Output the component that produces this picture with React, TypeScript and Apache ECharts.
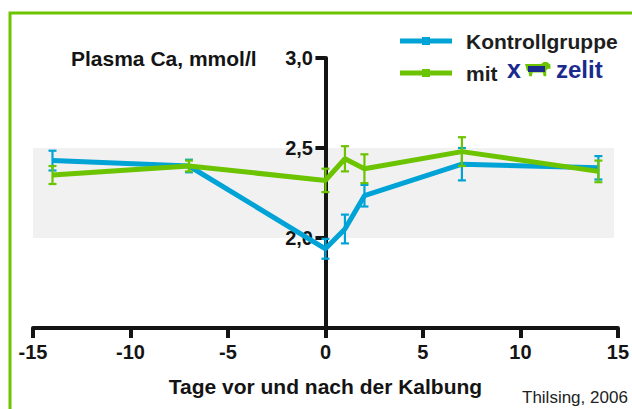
import React, { useEffect, useRef } from "react";
import * as echarts from "echarts";

const days = [-14, -7, 0, 1, 2, 7, 14];
const kontrollMean = [2.43, 2.4, 1.94, 2.05, 2.235, 2.41, 2.39];
const kontrollErr = [0.055, 0.035, 0.055, 0.08, 0.06, 0.09, 0.065];
const xzelitMean = [2.35, 2.4, 2.32, 2.44, 2.385, 2.48, 2.37];
const xzelitErr = [0.05, 0.03, 0.065, 0.07, 0.08, 0.08, 0.06];
const normalRange = [2.0, 2.5];
const xTicks = [-15, 15, 5];
const yRange = [1.5, 3.0, 0.5];
const yTickValues = [2.0, 2.5, 3.0];

const BLUE = "#00a3d6";
const GREEN = "#6cc400";
const NAVY = "#1b2a8e";
const INK = "#141414";
const FONT = "Liberation Sans, Arial, sans-serif";

const cowPath =
  "M0,2 L19,2 L22,0 L26,0 L30,3 L30,7 L27,7 L25,9 L25,15 L22,15 L21,11 L9,11 L8,15 L5,15 L4,10 L2,9 L1,5 Z";
echarts.graphic.registerShape("cow", echarts.graphic.extendPath(cowPath, {}) as any);

function errSeries(name: string, mean: number[], err: number[], color: string, z: number) {
  return {
    type: "custom",
    name,
    z,
    data: days.map((d, i) => [d, mean[i] - err[i], mean[i] + err[i]]),
    renderItem: (params: any, api: any) => {
      const lo = api.coord([api.value(0), api.value(1)]);
      const hi = api.coord([api.value(0), api.value(2)]);
      const w = 4;
      const style = { stroke: color, lineWidth: 2.2 };
      return {
        type: "group",
        children: [
          { type: "line", shape: { x1: lo[0], y1: lo[1], x2: hi[0], y2: hi[1] }, style },
          { type: "line", shape: { x1: lo[0] - w, y1: lo[1], x2: lo[0] + w, y2: lo[1] }, style },
          { type: "line", shape: { x1: hi[0] - w, y1: hi[1], x2: hi[0] + w, y2: hi[1] }, style },
        ],
      };
    },
  };
}

export default function App() {
  const ref = useRef<HTMLDivElement>(null);
  useEffect(() => {
    if (!ref.current) return;
    const chart = echarts.init(ref.current, null, { renderer: "svg" });
    const gridLeft = 33;
    const gridRight = 11;
    const plotW = 632 - gridLeft - gridRight;
    const zeroShift = plotW * ((0 - xTicks[0]) / (xTicks[1] - xTicks[0]));
    chart.setOption({
      animation: false,
      backgroundColor: "#ffffff",
      grid: { left: gridLeft, right: gridRight, top: 58, bottom: 81 },
      xAxis: {
        type: "value",
        min: xTicks[0],
        max: xTicks[1],
        interval: xTicks[2],
        axisLine: { show: true, onZero: false, lineStyle: { color: INK, width: 4 } },
        axisTick: { show: true, length: 10, lineStyle: { color: INK, width: 4 } },
        axisLabel: { margin: 14, fontFamily: FONT, fontWeight: "bold", fontSize: 20, color: INK },
        splitLine: { show: false },
        name: "Tage vor und nach der Kalbung",
        nameLocation: "middle",
        nameGap: 48,
        nameTextStyle: { fontFamily: FONT, fontWeight: "bold", fontSize: 21, color: INK },
      },
      yAxis: {
        type: "value",
        min: yRange[0],
        max: yRange[1],
        interval: yRange[2],
        axisLine: { show: true, onZero: true, lineStyle: { color: INK, width: 4 } },
        axisTick: { show: false },
        axisLabel: {
          margin: 14 - zeroShift,
          fontFamily: FONT,
          fontWeight: "bold",
          fontSize: 20,
          color: INK,
          formatter: (v: number) => (v === yRange[0] ? "" : v.toFixed(1).replace(".", ",")),
        },
        splitLine: { show: false },
      },
      series: [
        {
          type: "line",
          name: "Kontrollgruppe",
          data: days.map((d, i) => [d, kontrollMean[i]]),
          showSymbol: false,
          lineStyle: { color: BLUE, width: 5 },
          itemStyle: { color: BLUE },
          z: 3,
          markArea: {
            silent: true,
            z: 0,
            itemStyle: { color: "#f1f1f1" },
            data: [[{ xAxis: -15, yAxis: normalRange[0] }, { xAxis: 14.8, yAxis: normalRange[1] }]],
          },
        },
        errSeries("Kontrollgruppe SE", kontrollMean, kontrollErr, BLUE, 4),
        {
          type: "line",
          name: "mit xzelit",
          data: days.map((d, i) => [d, xzelitMean[i]]),
          showSymbol: false,
          lineStyle: { color: GREEN, width: 5 },
          itemStyle: { color: GREEN },
          z: 5,
        },
        errSeries("mit xzelit SE", xzelitMean, xzelitErr, GREEN, 6),
        {
          type: "custom",
          name: "y ticks",
          z: 2,
          silent: true,
          clip: false,
          data: yTickValues.map((v) => [0, v]),
          renderItem: (params: any, api: any) => {
            const p = api.coord([api.value(0), api.value(1)]);
            return {
              type: "line",
              shape: { x1: p[0] - 10, y1: p[1], x2: p[0], y2: p[1] },
              style: { stroke: INK, lineWidth: 4 },
            };
          },
        },
      ],
      graphic: [
        {
          type: "rect",
          z: 100,
          shape: { x: 10, y: 13, width: 640, height: 420 },
          style: { fill: "none", stroke: GREEN, lineWidth: 3 },
        },
        {
          type: "text",
          x: 71,
          y: 58,
          style: {
            text: "Plasma Ca, mmol/l",
            fontFamily: FONT,
            fontWeight: "bold",
            fontSize: 21,
            fill: INK,
            verticalAlign: "middle",
          },
        },
        { type: "line", shape: { x1: 400, y1: 41, x2: 452, y2: 41 }, style: { stroke: BLUE, lineWidth: 5 } },
        { type: "rect", shape: { x: 422, y: 37, width: 8, height: 8 }, style: { fill: BLUE } },
        { type: "line", shape: { x1: 400, y1: 73, x2: 452, y2: 73 }, style: { stroke: GREEN, lineWidth: 5 } },
        { type: "rect", shape: { x: 422, y: 69, width: 8, height: 8 }, style: { fill: GREEN } },
        {
          type: "text",
          x: 466,
          y: 41,
          style: { text: "Kontrollgruppe", fontFamily: FONT, fontWeight: "bold", fontSize: 21, fill: "#1e1e1e", verticalAlign: "middle" },
        },
        {
          type: "text",
          x: 466,
          y: 73,
          style: { text: "mit", fontFamily: FONT, fontWeight: "bold", fontSize: 21, fill: "#1e1e1e", verticalAlign: "middle" },
        },
        {
          type: "text",
          x: 507,
          y: 69,
          style: { text: "x", fontFamily: FONT, fontWeight: "bold", fontSize: 25, fill: NAVY, verticalAlign: "middle" },
        },
        { type: "cow", x: 525, y: 62, scaleX: 0.85, scaleY: 0.95, style: { fill: GREEN } },
        { type: "rect", shape: { x: 528, y: 66, width: 17, height: 6 }, style: { fill: NAVY } },
        {
          type: "text",
          x: 556,
          y: 69,
          style: { text: "zelit", fontFamily: FONT, fontWeight: "bold", fontSize: 24, fill: NAVY, verticalAlign: "middle" },
        },
        {
          type: "text",
          x: 522,
          y: 397,
          style: { text: "Thilsing, 2006", fontFamily: FONT, fontSize: 17, fill: "#222222", verticalAlign: "middle" },
        },
      ],
    });
    return () => chart.dispose();
  }, []);
  return (
    <div
      ref={ref}
      style={{ position: "absolute", left: 0, top: 0, width: 632, height: 409, background: "#fff" }}
    />
  );
}
